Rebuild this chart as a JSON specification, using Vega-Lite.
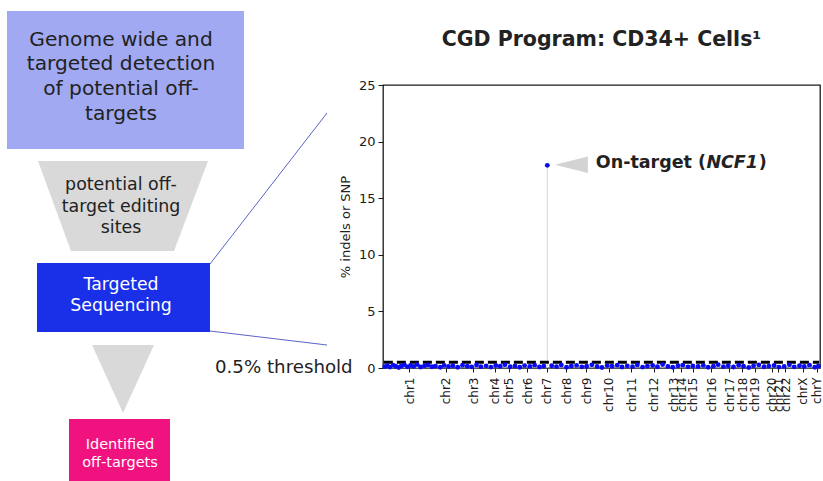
{
  "$schema": "https://vega.github.io/schema/vega-lite/v6.json",
  "padding": 0,
  "background": "white",
  "config": {"font": "DejaVu Sans", "view": {"stroke": null}},
  "bounds": "flush",
  "spacing": 0,
  "hconcat": [
    {
      "width": 383,
      "height": 481,
      "encoding": {
        "x": {"field": "x", "type": "quantitative", "scale": {"domain": [0, 383], "nice": false, "zero": false}, "axis": null},
        "y": {"field": "y", "type": "quantitative", "scale": {"domain": [0, 481], "nice": false, "zero": false, "reverse": true}, "axis": null}
      },
      "layer": [
        {
          "data": {"values": [
            {"box": "Genome wide", "x": 7, "x2": 244, "y": 11, "y2": 149, "c": "#a0a9f2"},
            {"box": "Targeted Sequencing", "x": 37, "x2": 210, "y": 263, "y2": 332, "c": "#1a2fe8"},
            {"box": "Identified off-targets", "x": 69, "x2": 170, "y": 419, "y2": 481, "c": "#f0127f"}
          ]},
          "mark": {"type": "rect"},
          "encoding": {
            "x2": {"field": "x2"},
            "y2": {"field": "y2"},
            "color": {"field": "c", "type": "nominal", "scale": null, "legend": null}
          }
        },
        {
          "data": {"values": [
            {"shape": "funnel", "y": 161, "x": 38, "x2": 208},
            {"shape": "funnel", "y": 251, "x": 71, "x2": 174},
            {"shape": "arrow", "y": 345, "x": 92, "x2": 154},
            {"shape": "arrow", "y": 413, "x": 123, "x2": 123}
          ]},
          "mark": {"type": "area", "orient": "horizontal", "color": "#d9d9d9", "opacity": 1},
          "encoding": {
            "x2": {"field": "x2"},
            "detail": {"field": "shape", "type": "nominal"}
          }
        },
        {
          "data": {"values": [
            {"x": 210, "y": 264, "x2": 327, "y2": 113},
            {"x": 210, "y": 331, "x2": 327, "y2": 345}
          ]},
          "mark": {"type": "rule", "color": "#5a64c6", "strokeWidth": 1},
          "encoding": {"x2": {"field": "x2"}, "y2": {"field": "y2"}}
        },
        {
          "data": {"values": [
            {"t": "Genome wide and", "x": 121, "y": 40},
            {"t": "targeted detection", "x": 121, "y": 64},
            {"t": "of potential off-", "x": 121, "y": 89},
            {"t": "targets", "x": 121, "y": 114}
          ]},
          "mark": {"type": "text", "fontSize": 20.2, "color": "#222222", "align": "center", "baseline": "middle"},
          "encoding": {"text": {"field": "t"}}
        },
        {
          "data": {"values": [
            {"t": "potential off-", "x": 121, "y": 185},
            {"t": "target editing", "x": 121, "y": 207},
            {"t": "sites", "x": 121, "y": 228}
          ]},
          "mark": {"type": "text", "fontSize": 17.4, "color": "#222222", "align": "center", "baseline": "middle"},
          "encoding": {"text": {"field": "t"}}
        },
        {
          "data": {"values": [
            {"t": "Targeted", "x": 121, "y": 285},
            {"t": "Sequencing", "x": 121, "y": 306}
          ]},
          "mark": {"type": "text", "fontSize": 17.3, "color": "white", "align": "center", "baseline": "middle"},
          "encoding": {"text": {"field": "t"}}
        },
        {
          "data": {"values": [
            {"t": "Identified", "x": 120, "y": 445},
            {"t": "off-targets", "x": 120, "y": 463}
          ]},
          "mark": {"type": "text", "fontSize": 14.5, "color": "white", "align": "center", "baseline": "middle"},
          "encoding": {"text": {"field": "t"}}
        },
        {
          "data": {"values": [
            {"t": "0.5% threshold", "x": 215, "y": 368}
          ]},
          "mark": {"type": "text", "fontSize": 18.2, "color": "#222222", "align": "left", "baseline": "middle"},
          "encoding": {"text": {"field": "t"}}
        }
      ]
    },
    {
      "bounds": "flush",
      "spacing": 0,
      "vconcat": [
        {
          "width": 437,
          "height": 85,
          "data": {"values": [{"t": ""}]},
          "mark": {"type": "text"},
          "encoding": {"text": {"field": "t"}}
        },
        {
          "width": 437,
          "height": 283,
          "view": {"stroke": "#1a1a1a", "strokeWidth": 1.3},
          "title": {"text": "CGD Program: CD34+ Cells¹", "fontSize": 20.5, "fontWeight": "bold", "color": "#222222", "offset": 29, "anchor": "middle"},
          "encoding": {
            "x": {
              "field": "pos", "type": "quantitative",
              "scale": {"domain": [0, 1000], "nice": false, "zero": false},
              "axis": {
                "title": null, "grid": false, "domain": false,
                "values": [60, 144, 206, 256, 288, 330, 375, 419, 465, 517, 568, 620, 664, 682, 709, 751, 792, 822, 851, 890, 904, 920, 961, 993],
                "labelExpr": "['chr1','chr2','chr3','chr4','chr5','chr6','chr7','chr8','chr9','chr10','chr11','chr12','chr13','chr14','chr15','chr16','chr17','chr18','chr19','chr20','chr21','chr22','chrX','chrY'][indexof([60,144,206,256,288,330,375,419,465,517,568,620,664,682,709,751,792,822,851,890,904,920,961,993], datum.value)]",
                "labelAngle": 270, "labelAlign": "right", "labelBaseline": "middle",
                "labelFontSize": 12, "labelColor": "#1a1a1a", "labelPadding": 5,
                "tickSize": 4, "tickColor": "#1a1a1a", "labelOverlap": false, "labelBound": false, "labelFlush": false
              }
            },
            "y": {
              "field": "val", "type": "quantitative",
              "scale": {"domain": [0, 25], "nice": false, "zero": true},
              "axis": {
                "title": "% indels or SNP", "grid": false, "domain": false,
                "values": [0, 5, 10, 15, 20, 25],
                "labelFontSize": 13, "labelColor": "#1a1a1a", "labelPadding": 3,
                "tickSize": 5, "tickColor": "#1a1a1a",
                "titleFontSize": 13, "titleFontWeight": "normal", "titleColor": "#222222", "titlePadding": 6
              }
            }
          },
          "layer": [
            {
              "data": {"name": "sites"},
              "mark": {"type": "rule", "color": "#cfd3f7", "strokeWidth": 1},
              "encoding": {"y2": {"datum": 0}}
            },
            {
              "data": {"values": [{"pos": 2, "pos2": 998, "val": 0.5}]},
              "mark": {"type": "rule", "color": "black", "strokeWidth": 3, "strokeDash": [9, 4]},
              "encoding": {"x2": {"field": "pos2"}}
            },
            {
              "data": {"name": "sites"},
              "mark": {"type": "circle", "color": "#0b0bf0", "size": 24, "opacity": 1}
            },
            {
              "data": {"values": [{"pos": 431, "val": 17.95}]},
              "mark": {"type": "point", "shape": "M-1,0L1,-0.5L1,0.5Z", "size": 1089, "filled": true, "color": "#d3d3d3", "opacity": 1, "strokeWidth": 0}
            },
            {
              "data": {"values": [{"pos": 487, "val": 18.1, "t": "On-target ("}]},
              "mark": {"type": "text", "fontSize": 17.5, "fontWeight": "bold", "color": "#222222", "align": "left", "baseline": "middle"},
              "encoding": {"text": {"field": "t"}}
            },
            {
              "data": {"values": [{"pos": 740, "val": 18.1, "t": "NCF1"}]},
              "mark": {"type": "text", "fontSize": 17.5, "fontWeight": "bold", "fontStyle": "italic", "color": "#222222", "align": "left", "baseline": "middle"},
              "encoding": {"text": {"field": "t"}}
            },
            {
              "data": {"values": [{"pos": 860, "val": 18.1, "t": ")"}]},
              "mark": {"type": "text", "fontSize": 17.5, "fontWeight": "bold", "color": "#222222", "align": "left", "baseline": "middle"},
              "encoding": {"text": {"field": "t"}}
            }
          ]
        }
      ]
    }
  ],
  "datasets": {
    "sites": [
      {"pos": 4, "val": 0.12}, {"pos": 10, "val": 0.21}, {"pos": 16, "val": 0.08}, {"pos": 23, "val": 0.25}, {"pos": 29, "val": 0.15},
      {"pos": 36, "val": 0.05}, {"pos": 42, "val": 0.18}, {"pos": 49, "val": 0.28}, {"pos": 56, "val": 0.1}, {"pos": 63, "val": 0.22},
      {"pos": 70, "val": 0.14}, {"pos": 78, "val": 0.3}, {"pos": 86, "val": 0.09}, {"pos": 95, "val": 0.19}, {"pos": 103, "val": 0.26},
      {"pos": 112, "val": 0.11}, {"pos": 120, "val": 0.17}, {"pos": 131, "val": 0.07}, {"pos": 140, "val": 0.23}, {"pos": 150, "val": 0.13},
      {"pos": 160, "val": 0.2}, {"pos": 171, "val": 0.06}, {"pos": 182, "val": 0.24}, {"pos": 193, "val": 0.16}, {"pos": 203, "val": 0.1},
      {"pos": 214, "val": 0.27}, {"pos": 224, "val": 0.12}, {"pos": 236, "val": 0.19}, {"pos": 247, "val": 0.08}, {"pos": 258, "val": 0.22},
      {"pos": 268, "val": 0.15}, {"pos": 279, "val": 0.29}, {"pos": 291, "val": 0.11}, {"pos": 302, "val": 0.18}, {"pos": 313, "val": 0.06},
      {"pos": 324, "val": 0.21}, {"pos": 336, "val": 0.14}, {"pos": 347, "val": 0.25}, {"pos": 358, "val": 0.09}, {"pos": 368, "val": 0.17},
      {"pos": 376, "val": 17.9}, {"pos": 386, "val": 0.2}, {"pos": 397, "val": 0.12}, {"pos": 408, "val": 0.26}, {"pos": 420, "val": 0.07},
      {"pos": 431, "val": 0.18}, {"pos": 443, "val": 0.23}, {"pos": 455, "val": 0.1}, {"pos": 466, "val": 0.16}, {"pos": 478, "val": 0.28},
      {"pos": 490, "val": 0.13}, {"pos": 501, "val": 0.05}, {"pos": 513, "val": 0.21}, {"pos": 524, "val": 0.15}, {"pos": 536, "val": 0.24},
      {"pos": 547, "val": 0.09}, {"pos": 559, "val": 0.19}, {"pos": 571, "val": 0.12}, {"pos": 582, "val": 0.27}, {"pos": 594, "val": 0.08},
      {"pos": 605, "val": 0.17}, {"pos": 617, "val": 0.22}, {"pos": 628, "val": 0.11}, {"pos": 640, "val": 0.3}, {"pos": 652, "val": 0.14},
      {"pos": 663, "val": 0.06}, {"pos": 675, "val": 0.2}, {"pos": 686, "val": 0.25}, {"pos": 698, "val": 0.1}, {"pos": 709, "val": 0.18},
      {"pos": 721, "val": 0.13}, {"pos": 733, "val": 0.23}, {"pos": 744, "val": 0.07}, {"pos": 756, "val": 0.16}, {"pos": 767, "val": 0.29},
      {"pos": 779, "val": 0.12}, {"pos": 790, "val": 0.2}, {"pos": 802, "val": 0.09}, {"pos": 814, "val": 0.24}, {"pos": 825, "val": 0.15},
      {"pos": 837, "val": 0.05}, {"pos": 848, "val": 0.19}, {"pos": 860, "val": 0.26}, {"pos": 872, "val": 0.11}, {"pos": 883, "val": 0.17},
      {"pos": 895, "val": 0.22}, {"pos": 906, "val": 0.08}, {"pos": 918, "val": 0.14}, {"pos": 930, "val": 0.28}, {"pos": 941, "val": 0.1},
      {"pos": 953, "val": 0.2}, {"pos": 964, "val": 0.13}, {"pos": 976, "val": 0.25}, {"pos": 988, "val": 0.07}, {"pos": 996, "val": 0.16}
    ]
  }
}
